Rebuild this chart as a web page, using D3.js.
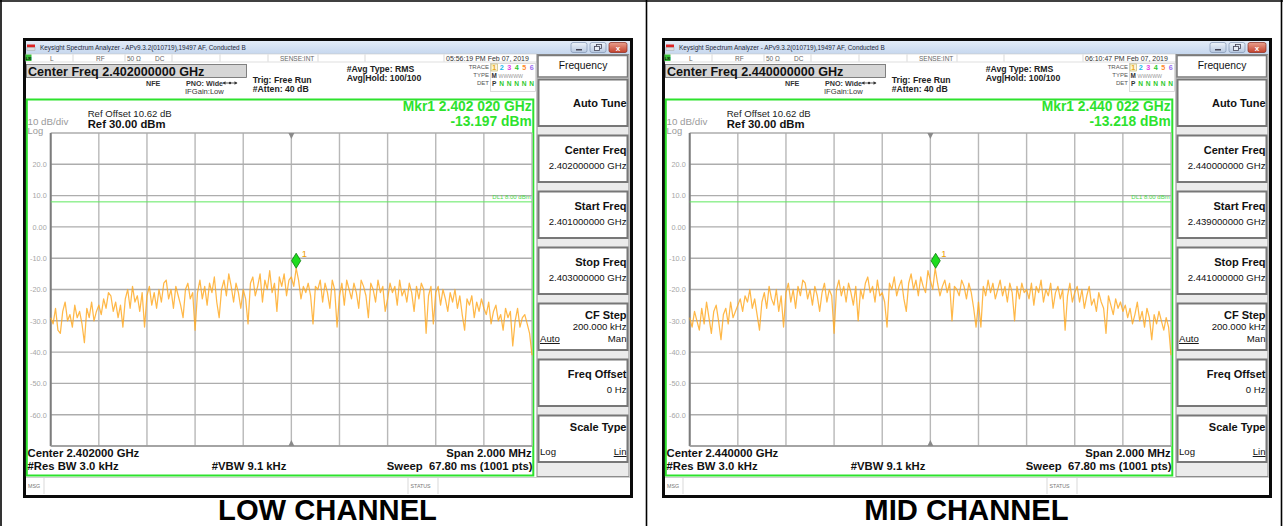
<!DOCTYPE html>
<html lang="en">
<head>
<meta charset="UTF-8" />
<title>Spectrum Analyzer - Low / Mid Channel</title>
<script src="https://d3js.org/d3.v7.min.js"></script>
<style>
  body { margin: 0; overflow: hidden; background: #fff; }
  text { font-family: "Liberation Sans", Arial, sans-serif; }
</style>
</head>
<body>
<svg width="1283" height="526"></svg>
<script>
var svg = d3.select("svg");

// trace levels in dBm, 201 points over the 2 MHz span
var lowTrace = [
  -29, -31, -26, -33, -34, -27, -24, -30, -28, -32, -25, -29, -27, -31, -37, -26, -29, -24, -30, -27,
  -25, -28, -23, -26, -21, -22, -27, -24, -29, -25, -32, -23, -20, -26, -19, -24, -22, -27, -21, -32,
  -22, -19, -25, -21, -26, -20, -24, -18, -17, -23, -20, -26, -19, -22, -25, -29, -20, -18, -23, -21,
  -33, -21, -17, -23, -19, -25, -18, -21, -16, -24, -29, -20, -17, -22, -15, -19, -24, -18, -21, -26,
  -20, -23, -31, -18, -16, -22, -19, -15, -24, -17, -20, -14, -21, -18, -27, -16, -19, -15, -22, -17,
  -16, -19, -13.2, -17, -23, -19, -21, -18, -22, -31, -19, -20, -17, -24, -18, -21, -26, -17, -20, -32,
  -22, -18, -25, -17, -20, -23, -18, -21, -26, -17, -19, -22, -29, -18, -20, -24, -17, -21, -19, -27,
  -23, -18, -21, -19, -25, -17, -22, -20, -24, -18, -21, -27, -19, -23, -18, -20, -34, -22, -19, -31,
  -21, -19, -25, -20, -23, -27, -21, -24, -20, -26, -22, -28, -33, -23, -25, -22, -29, -24, -27, -23,
  -26, -28, -24, -31, -27, -25, -30, -28, -33, -26, -29, -27, -38, -30, -26, -32, -29, -28, -31, -34, -41
];
var midTrace = [
  -29, -32, -27, -30, -33, -26, -31, -24, -29, -34, -27, -25, -30, -36, -28, -26, -31, -24, -29, -27,
  -25, -23, -27, -22, -24, -20, -26, -23, -28, -33, -24, -21, -26, -19, -23, -25, -20, -27, -22, -32,
  -21, -18, -24, -20, -26, -19, -22, -17, -18, -23, -20, -25, -19, -22, -27, -21, -18, -24, -20, -22,
  -34, -20, -17, -22, -19, -24, -18, -21, -25, -19, -30, -20, -23, -18, -16, -21, -19, -24, -17, -22,
  -21, -24, -32, -18, -20, -16, -22, -19, -17, -23, -27, -18, -15, -20, -17, -22, -16, -19, -21, -14,
  -17, -20, -13.2, -18, -22, -19, -17, -21, -18, -30, -19, -20, -22, -17, -19, -23, -18, -21, -26, -32,
  -24, -32, -19, -22, -17, -21, -18, -23, -20, -17, -22, -19, -24, -18, -21, -30, -19, -23, -18, -21,
  -20, -23, -18, -25, -19, -21, -17, -24, -20, -22, -18, -26, -21, -19, -23, -20, -33, -22, -18, -24,
  -21, -19, -24, -20, -26, -22, -19, -25, -23, -27, -21, -24, -26, -34, -22, -25, -28, -23, -26, -24,
  -27, -25, -29, -26, -31, -28, -24, -30, -27, -32, -26, -29, -36, -28, -31, -27, -30, -33, -29, -32, -41
];

var yTickValues = [20, 10, 0, -10, -20, -30, -40, -50, -60];
var yTickLabels = ["20.0", "10.0", "0.00", "-10.0", "-20.0", "-30.0", "-40.0", "-50.0", "-60.0"];

var centerFreqs = [2.402, 2.440];           // GHz
var markerFreqs = [2.402020, 2.440022];     // GHz
var markerLevels = [-13.197, -13.218];      // dBm
var markerFreqLabels = ["Mkr1 2.402 020 GHz", "Mkr1 2.440 022 GHz"];
var markerLevelLabels = ["-13.197 dBm", "-13.218 dBm"];
var centerFreqLabels = ["Center Freq 2.402000000 GHz", "Center Freq 2.440000000 GHz"];
var centerLabels = ["Center 2.402000 GHz", "Center 2.440000 GHz"];
var timeLabels = ["05:56:19 PM Feb 07, 2019", "06:10:47 PM Feb 07, 2019"];
var captions = ["LOW CHANNEL", "MID CHANNEL"];

var softkeyTitles = ["Auto Tune", "Center Freq", "Start Freq", "Stop Freq", "CF Step", "Freq Offset", "Scale Type"];
var lowSoftkeyValues = ["", "2.402000000 GHz", "2.401000000 GHz", "2.403000000 GHz", "200.000 kHz", "0 Hz", ""];
var midSoftkeyValues = ["", "2.440000000 GHz", "2.439000000 GHz", "2.441000000 GHz", "200.000 kHz", "0 Hz", ""];

var traceNums = ["1", "2", "3", "4", "5", "6"];
var traceNumColors = ["#e8a81c", "#19b8ec", "#e63ce6", "#2cc92c", "#ff8a2a", "#9a6cf2"];

var span = 0.002;  // GHz
var refLevel = 30, bottomLevel = -70, dlLevel = 8;
var panelOffsets = [0, 639];

var grid = { left: 50.7, right: 532, top: 133, bottom: 446 };
var green = "#2de22d";

function label(g, x, y, s, size, weight, fill, anchor) {
  return g.append("text")
    .attr("x", x).attr("y", y)
    .attr("font-size", size)
    .attr("font-weight", weight || "normal")
    .attr("fill", fill || "#000")
    .attr("text-anchor", anchor || "start")
    .text(s);
}

// gradients for the window chrome
var defs = svg.append("defs");
function grad(id, c1, c2) {
  var lg = defs.append("linearGradient").attr("id", id).attr("x1", 0).attr("y1", 0).attr("x2", 0).attr("y2", 1);
  lg.append("stop").attr("offset", "0%").attr("stop-color", c1);
  lg.append("stop").attr("offset", "100%").attr("stop-color", c2);
}
grad("titleGrad", "#e3ecf8", "#c6d7ee");
grad("btnGrad", "#eef3fa", "#b6c8e0");
grad("closeGrad", "#eaa08e", "#c3412c");

// page table lines
svg.append("line").attr("x1", 0).attr("x2", 1283).attr("y1", 1).attr("y2", 1).attr("stroke", "#000").attr("stroke-width", 1.6);
[1, 646.5, 1281.5].forEach(function (xx) {
  svg.append("line").attr("x1", xx).attr("x2", xx).attr("y1", 0).attr("y2", 526).attr("stroke", "#000").attr("stroke-width", 1.6);
});

function drawPanel(p) {
  var g = svg.append("g").attr("transform", "translate(" + panelOffsets[p] + ",0)");
  var center = centerFreqs[p];
  var trace = p === 0 ? lowTrace : midTrace;
  var keyValues = p === 0 ? lowSoftkeyValues : midSoftkeyValues;

  var x = d3.scaleLinear().domain([center - span / 2, center + span / 2]).range([grid.left, grid.right]);
  var y = d3.scaleLinear().domain([bottomLevel, refLevel]).range([grid.bottom, grid.top]);

  // window frame
  g.append("rect").attr("x", 23).attr("y", 38).attr("width", 610).attr("height", 460).attr("fill", "#0a0a0a");
  g.append("rect").attr("x", 26).attr("y", 41).attr("width", 604).attr("height", 454).attr("fill", "#fff");

  // title bar
  g.append("rect").attr("x", 26).attr("y", 41).attr("width", 604).attr("height", 13).attr("fill", "url(#titleGrad)");
  g.append("rect").attr("x", 27).attr("y", 44.5).attr("width", 8).attr("height", 3).attr("fill", "#d22");
  g.append("rect").attr("x", 27).attr("y", 47.5).attr("width", 8).attr("height", 3).attr("fill", "#ddd").attr("stroke", "#999").attr("stroke-width", 0.4);
  label(g, 40, 50.3, "Keysight Spectrum Analyzer - APv9.3.2(010719),19497 AF, Conducted B", 6.4, "normal", "#1d2a3c");
  [{ x: 571, w: 16, k: "min" }, { x: 590, w: 16, k: "max" }, { x: 609, w: 18, k: "close" }].forEach(function (b) {
    g.append("rect").attr("x", b.x).attr("y", 42.5).attr("width", b.w).attr("height", 10).attr("rx", 2)
      .attr("fill", b.k === "close" ? "url(#closeGrad)" : "url(#btnGrad)")
      .attr("stroke", b.k === "close" ? "#8a2a1c" : "#7f93b2").attr("stroke-width", 0.7);
    if (b.k === "min") g.append("rect").attr("x", b.x + 5).attr("y", 49).attr("width", 6).attr("height", 1.5).attr("fill", "#445");
    if (b.k === "max") {
      g.append("rect").attr("x", b.x + 6.5).attr("y", 44.5).attr("width", 5).attr("height", 4).attr("fill", "none").attr("stroke", "#445").attr("stroke-width", 0.8);
      g.append("rect").attr("x", b.x + 4.5).attr("y", 46.5).attr("width", 5).attr("height", 4).attr("fill", "#e8eef7").attr("stroke", "#445").attr("stroke-width", 0.8);
    }
    if (b.k === "close") label(g, b.x + b.w / 2, 50.8, "x", 8, "bold", "#fff", "middle");
  });

  // status row
  g.append("rect").attr("x", 26).attr("y", 54).attr("width", 511).attr("height", 8).attr("fill", "#fff").attr("stroke", "#c8c8c8").attr("stroke-width", 0.6);
  g.append("rect").attr("x", 25.5).attr("y", 54.5).attr("width", 6).attr("height", 6.5).attr("fill", "#38c038");
  label(g, 28.5, 60, "LXI", 3.6, "bold", "#000", "middle");
  [73, 125, 172, 220, 268, 318, 365, 444].forEach(function (sx) {
    g.append("line").attr("x1", sx).attr("x2", sx).attr("y1", 54.5).attr("y2", 61.5).attr("stroke", "#c8c8c8").attr("stroke-width", 0.7);
  });
  label(g, 50, 60.5, "L", 6.5, "normal", "#666");
  label(g, 96, 60.5, "RF", 6.5, "normal", "#666");
  label(g, 127, 60.5, "50 Ω", 6.5, "normal", "#666");
  label(g, 155, 60.5, "DC", 6.5, "normal", "#666");
  label(g, 280, 60.5, "SENSE:INT", 6.5, "normal", "#666");
  label(g, 446, 60.5, timeLabels[p], 7, "normal", "#333");

  // header information
  g.append("rect").attr("x", 26.5).attr("y", 64.5).attr("width", 220).attr("height", 13).attr("fill", "#d6d6d6").attr("stroke", "#666").attr("stroke-width", 0.8);
  label(g, 28, 75.7, centerFreqLabels[p], 12.6, "bold", "#111");
  label(g, 146, 85.5, "NFE", 7.2, "bold", "#333");
  label(g, 186, 85.5, "PNO: Wide", 7.2, "bold", "#333");
  // small "<-*->" coupling symbol
  g.append("line").attr("x1", 223).attr("x2", 237).attr("y1", 83).attr("y2", 83).attr("stroke", "#333").attr("stroke-width", 0.8);
  g.append("path").attr("d", "M222.5,83L225.5,81.3L225.5,84.7Z M237.5,83L234.5,81.3L234.5,84.7Z").attr("fill", "#333");
  g.append("circle").attr("cx", 230).attr("cy", 83).attr("r", 1.2).attr("fill", "#333");
  label(g, 185, 94.3, "IFGain:Low", 7.6, "normal", "#333");
  label(g, 252.7, 82.5, "Trig: Free Run", 8.7, "bold", "#222");
  label(g, 252.7, 91.8, "#Atten: 40 dB", 8.7, "bold", "#222");
  label(g, 346.7, 71.7, "#Avg Type: RMS", 8.7, "bold", "#222");
  label(g, 346.7, 81, "Avg|Hold: 100/100", 8.7, "bold", "#222");

  // trace status block
  g.append("rect").attr("x", 490.5).attr("y", 63.5).attr("width", 45).attr("height", 28).attr("fill", "#fff").attr("stroke", "#ccc").attr("stroke-width", 0.7);
  label(g, 489, 68.8, "TRACE", 6, "normal", "#555", "end");
  label(g, 489, 77, "TYPE", 6, "normal", "#555", "end");
  label(g, 489, 85.2, "DET", 6, "normal", "#555", "end");
  g.append("rect").attr("x", 491).attr("y", 64).attr("width", 6.5).attr("height", 7).attr("fill", "#fff6d8").attr("stroke", "#b8b060").attr("stroke-width", 0.6);
  traceNums.forEach(function (n, i) {
    var cx = 494.2 + i * 7.5;
    label(g, cx, 69.8, n, 7.2, "bold", traceNumColors[i], "middle");
    label(g, cx, 85.6, i === 0 ? "P" : "N", 6.6, "bold", i === 0 ? "#333" : "#2cc92c", "middle");
  });
  label(g, 494.2, 77.6, "M", 6.4, "bold", "#333", "middle");
  label(g, 498.5, 77.6, "WWWWW", 5.2, "normal", "#999");

  // green display frame
  g.append("rect").attr("x", 26.8).attr("y", 99.5).attr("width", 506.5).attr("height", 376).attr("fill", "none").attr("stroke", green).attr("stroke-width", 2);

  label(g, 87.7, 116.5, "Ref Offset 10.62 dB", 9.6, "normal", "#222");
  label(g, 87.7, 127.8, "Ref 30.00 dBm", 11.3, "bold", "#111");
  label(g, 27.5, 125, "10 dB/div", 9.8, "normal", "#9a9a9a");
  label(g, 27.5, 134.3, "Log", 9.4, "normal", "#9a9a9a");
  label(g, 531.7, 111, markerFreqLabels[p], 13.8, "bold", green, "end");
  label(g, 531.7, 125.7, markerLevelLabels[p], 13.8, "bold", green, "end");

  // graticule
  var xDivs = d3.range(11).map(function (i) { return center - span / 2 + i * span / 10; });
  var yDivs = d3.range(bottomLevel, refLevel + 1, 10);
  g.append("g").selectAll("line").data(xDivs).enter().append("line")
    .attr("x1", function (d) { return x(d); }).attr("x2", function (d) { return x(d); })
    .attr("y1", grid.top).attr("y2", grid.bottom)
    .attr("stroke", "#b8b8b8").attr("stroke-width", 1.4);
  g.append("g").selectAll("line").data(yDivs).enter().append("line")
    .attr("x1", grid.left).attr("x2", grid.right)
    .attr("y1", function (d) { return y(d); }).attr("y2", function (d) { return y(d); })
    .attr("stroke", "#adadad").attr("stroke-width", 1.4);
  g.append("line").attr("x1", grid.left).attr("x2", grid.left).attr("y1", grid.top).attr("y2", grid.bottom)
    .attr("stroke", "#7c7c7c").attr("stroke-width", 2);
  g.append("line").attr("x1", grid.left).attr("x2", grid.right).attr("y1", grid.bottom).attr("y2", grid.bottom)
    .attr("stroke", "#9a9a9a").attr("stroke-width", 1.6);

  // centre markers on the graticule
  var cx0 = x(center);
  g.append("path").attr("d", "M" + (cx0 - 3) + "," + grid.top + "L" + (cx0 + 3) + "," + grid.top + "L" + cx0 + "," + (grid.top + 6) + "Z").attr("fill", "#8a8a8a");
  g.append("path").attr("d", "M" + (cx0 - 3) + "," + grid.bottom + "L" + (cx0 + 3) + "," + grid.bottom + "L" + cx0 + "," + (grid.bottom - 6) + "Z").attr("fill", "#8a8a8a");

  // y axis labels
  var yAxis = d3.axisLeft(y).tickValues(yTickValues)
    .tickFormat(function (d, i) { return yTickLabels[i]; })
    .tickSize(0).tickPadding(4);
  var ya = g.append("g").attr("transform", "translate(" + grid.left + ",0)").call(yAxis);
  ya.select(".domain").remove();
  ya.selectAll("text").attr("font-size", 7.3).attr("fill", "#a6a6a6");

  // display line
  g.append("line").attr("x1", grid.left).attr("x2", grid.right).attr("y1", y(dlLevel)).attr("y2", y(dlLevel))
    .attr("stroke", "#5ee85e").attr("stroke-width", 1);
  label(g, 530.7, y(dlLevel) - 2.4, "DL1 8.00 dBm", 6, "normal", "#4cd84c", "end");

  // trace
  var line = d3.line()
    .x(function (d, i) { return x(center - span / 2 + i * span / (trace.length - 1)); })
    .y(function (d) { return y(d); });
  g.append("path").datum(trace).attr("d", line)
    .attr("fill", "none").attr("stroke", "#ffa820").attr("stroke-width", 1.25).attr("stroke-opacity", 0.82)
    .attr("stroke-linejoin", "round");

  // marker
  var mx = x(markerFreqs[p]), my = y(markerLevels[p]);
  g.append("path")
    .attr("d", "M" + mx + "," + (my - 15) + "L" + (mx + 4.6) + "," + (my - 7.5) + "L" + mx + "," + my + "L" + (mx - 4.6) + "," + (my - 7.5) + "Z")
    .attr("fill", "#1edc1e").attr("stroke", "#0b7a0b").attr("stroke-width", 0.8);
  label(g, mx + 5.5, my - 11, "1", 9.5, "normal", "#f0a000");

  // bottom annotations
  label(g, 27.5, 457.3, centerLabels[p], 11.3, "bold", "#111");
  label(g, 27.5, 470.3, "#Res BW 3.0 kHz", 11.3, "bold", "#111");
  label(g, 211.7, 470.3, "#VBW 9.1 kHz", 11.3, "bold", "#111");
  label(g, 531.7, 457.3, "Span 2.000 MHz", 11.3, "bold", "#111", "end");
  label(g, 532.5, 470.3, "Sweep  67.80 ms (1001 pts)", 11.3, "bold", "#111", "end").style("white-space", "pre");

  // message row
  g.append("line").attr("x1", 26).attr("x2", 630).attr("y1", 477.5).attr("y2", 477.5).attr("stroke", "#bbb").attr("stroke-width", 0.7);
  [44, 408, 438].forEach(function (sx) {
    g.append("line").attr("x1", sx).attr("x2", sx).attr("y1", 478).attr("y2", 494).attr("stroke", "#c8c8c8").attr("stroke-width", 0.7);
  });
  label(g, 28, 487.8, "MSG", 5.3, "normal", "#777");
  label(g, 410.5, 487.8, "STATUS", 5.3, "normal", "#777");

  // softkey panel
  g.append("rect").attr("x", 537).attr("y", 54.5).attr("width", 92).attr("height", 422).attr("fill", "#ebebeb").attr("stroke", "#8c8c8c").attr("stroke-width", 1);
  g.append("rect").attr("x", 538).attr("y", 55.5).attr("width", 89.5).attr("height", 21.5).attr("fill", "#fff").attr("stroke", "#7a7a7a").attr("stroke-width", 1.5);
  label(g, 583, 69.3, "Frequency", 10.3, "normal", "#111", "middle");
  softkeyTitles.forEach(function (t, i) {
    var top = 79.5 + i * 56;
    g.append("rect").attr("x", 538.5).attr("y", top).attr("width", 89).attr("height", 46.5)
      .attr("fill", "#fff").attr("stroke", "#777").attr("stroke-width", 2);
    if (i === 0) {
      label(g, 626.5, top + 27, t, 11, "bold", "#111", "end");
      return;
    }
    var isSplit = (t === "CF Step" || t === "Scale Type");
    label(g, 626.5, top + (isSplit ? 15.5 : 18), t, 11, "bold", "#111", "end");
    if (keyValues[i]) label(g, 626.5, top + (isSplit ? 26.5 : 33), keyValues[i], 9.6, "normal", "#111", "end");
    if (t === "CF Step") {
      label(g, 540, top + 38.5, "Auto", 9.6, "normal", "#111").attr("text-decoration", "underline");
      label(g, 626.5, top + 38.5, "Man", 9.6, "normal", "#111", "end");
    }
    if (t === "Scale Type") {
      label(g, 540, top + 39.5, "Log", 9.6, "normal", "#111");
      label(g, 626.5, top + 39.5, "Lin", 9.6, "normal", "#111", "end").attr("text-decoration", "underline");
    }
  });

  // caption under the screenshot
  label(g, 327.5, 519.5, captions[p], 29.2, "bold", "#000", "middle");
}

panelOffsets.forEach(function (d, i) { drawPanel(i); });
</script>
</body>
</html>
